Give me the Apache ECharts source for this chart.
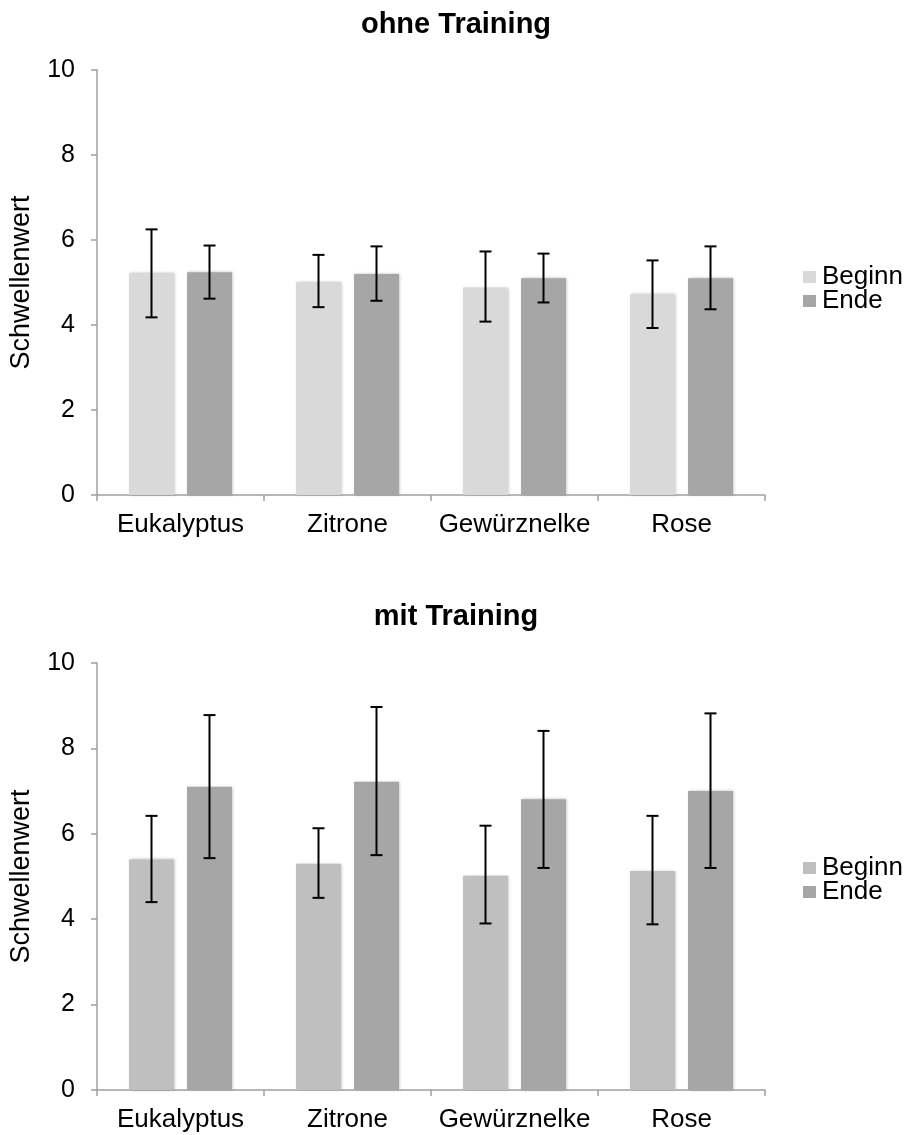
<!DOCTYPE html>
<html>
<head>
<meta charset="utf-8">
<script src="https://cdn.jsdelivr.net/npm/echarts@6/dist/echarts.min.js"></script>
<style>
  body { margin: 0; background: #fff; }
  #chart_ohne { width: 908px; height: 592px; }
  #chart_mit { width: 908px; height: 543px; }
</style>
</head>
<body>
<div id="chart_ohne"></div>
<div id="chart_mit"></div>
<script>
var categories = ['Eukalyptus', 'Zitrone', 'Gewürznelke', 'Rose'];
var y_ticks = [0, 2, 4, 6, 8, 10];

// ohne Training
var ohne_beginn = [5.22, 5.02, 4.88, 4.72];
var ohne_beginn_low = [4.18, 4.42, 4.08, 3.93];
var ohne_beginn_high = [6.25, 5.65, 5.73, 5.52];
var ohne_ende = [5.24, 5.2, 5.1, 5.1];
var ohne_ende_low = [4.62, 4.57, 4.53, 4.37];
var ohne_ende_high = [5.87, 5.85, 5.68, 5.85];

// mit Training
var mit_beginn = [5.4, 5.3, 5.02, 5.13];
var mit_beginn_low = [4.4, 4.5, 3.9, 3.88];
var mit_beginn_high = [6.42, 6.13, 6.19, 6.42];
var mit_ende = [7.1, 7.22, 6.81, 7.0];
var mit_ende_low = [5.43, 5.5, 5.2, 5.2];
var mit_ende_high = [8.78, 8.97, 8.41, 8.82];

var font = 'Liberation Sans, Arial, sans-serif';

function error_series(low, high, offset){
  var data = []
  low.forEach(function(e, i){
    data.push([i, e, high[i]])
  })
  return {
    type: 'custom',
    z: 10,
    silent: true,
    data: data,
    renderItem: function(params, api){
      var lo = api.coord([api.value(0), api.value(1)])
      var hi = api.coord([api.value(0), api.value(2)])
      var x = lo[0] + offset
      var cap = 6
      var style = {stroke: '#000', lineWidth: 2}
      return {
        type: 'group',
        children: [
          {type: 'line', shape: {x1: x, y1: lo[1], x2: x, y2: hi[1]}, style: style},
          {type: 'line', shape: {x1: x - cap, y1: lo[1], x2: x + cap, y2: lo[1]}, style: style},
          {type: 'line', shape: {x1: x - cap, y1: hi[1], x2: x + cap, y2: hi[1]}, style: style}
        ]
      }
    }
  }
}

function render_chart(chart_id, title, beginn, ende, err, colors, grid_top, grid_bottom, legend_top){
  var chart_div = echarts.init(document.getElementById(chart_id))
  var bar_style = {
    shadowBlur: 3,
    shadowColor: 'rgba(0,0,0,0.25)',
    shadowOffsetX: 1,
    shadowOffsetY: 0
  }
  var option = {
    animation: false,
    color: colors,
    textStyle: {fontFamily: font},
    title: {
      text: title,
      left: 451,
      textAlign: 'center',
      top: 5,
      textStyle: {fontFamily: font, fontSize: 29, fontWeight: 'bold', color: '#000'}
    },
    legend: {
      orient: 'vertical',
      left: 803,
      top: legend_top,
      padding: 0,
      itemWidth: 13,
      itemHeight: 12,
      itemGap: -2,
      icon: 'rect',
      textStyle: {fontFamily: font, fontSize: 26, lineHeight: 20, color: '#000', padding: [0, 0, 0, 1]},
      data: ['Beginn', 'Ende']
    },
    grid: {
      left: 97,
      right: 143,
      top: grid_top,
      bottom: grid_bottom
    },
    xAxis: {
      type: 'category',
      data: categories,
      axisLine: {lineStyle: {color: '#a0a0a0', width: 1.5}},
      axisTick: {show: true, interval: 0, alignWithLabel: false, length: 6, lineStyle: {color: '#a0a0a0', width: 1.5}},
      axisLabel: {interval: 0, fontFamily: font, fontSize: 26, color: '#000', margin: 17}
    },
    yAxis: {
      type: 'value',
      min: y_ticks[0],
      max: y_ticks[y_ticks.length - 1],
      interval: 2,
      name: 'Schwellenwert',
      nameLocation: 'middle',
      nameGap: 62,
      nameTextStyle: {fontFamily: font, fontSize: 27, color: '#000'},
      splitLine: {show: false},
      axisLine: {show: true, lineStyle: {color: '#a0a0a0', width: 1.5}},
      axisTick: {show: true, length: 6, lineStyle: {color: '#a0a0a0', width: 1.5}},
      axisLabel: {fontFamily: font, fontSize: 25, color: '#000', margin: 22}
    },
    series: [
      {name: 'Beginn', type: 'bar', data: beginn, barWidth: 45, barGap: '29%', itemStyle: bar_style},
      {name: 'Ende', type: 'bar', data: ende, barWidth: 45, barGap: '29%', itemStyle: bar_style},
      error_series(err[0], err[1], -29),
      error_series(err[2], err[3], 29)
    ]
  };
  chart_div.setOption(option);
}

render_chart('chart_ohne', 'ohne Training', ohne_beginn, ohne_ende,
  [ohne_beginn_low, ohne_beginn_high, ohne_ende_low, ohne_ende_high],
  ['#d9d9d9', '#a6a6a6'], 70, 97, 264)
render_chart('chart_mit', 'mit Training', mit_beginn, mit_ende,
  [mit_beginn_low, mit_beginn_high, mit_ende_low, mit_ende_high],
  ['#bfbfbf', '#a6a6a6'], 71, 45, 263)
</script>
</body>
</html>
